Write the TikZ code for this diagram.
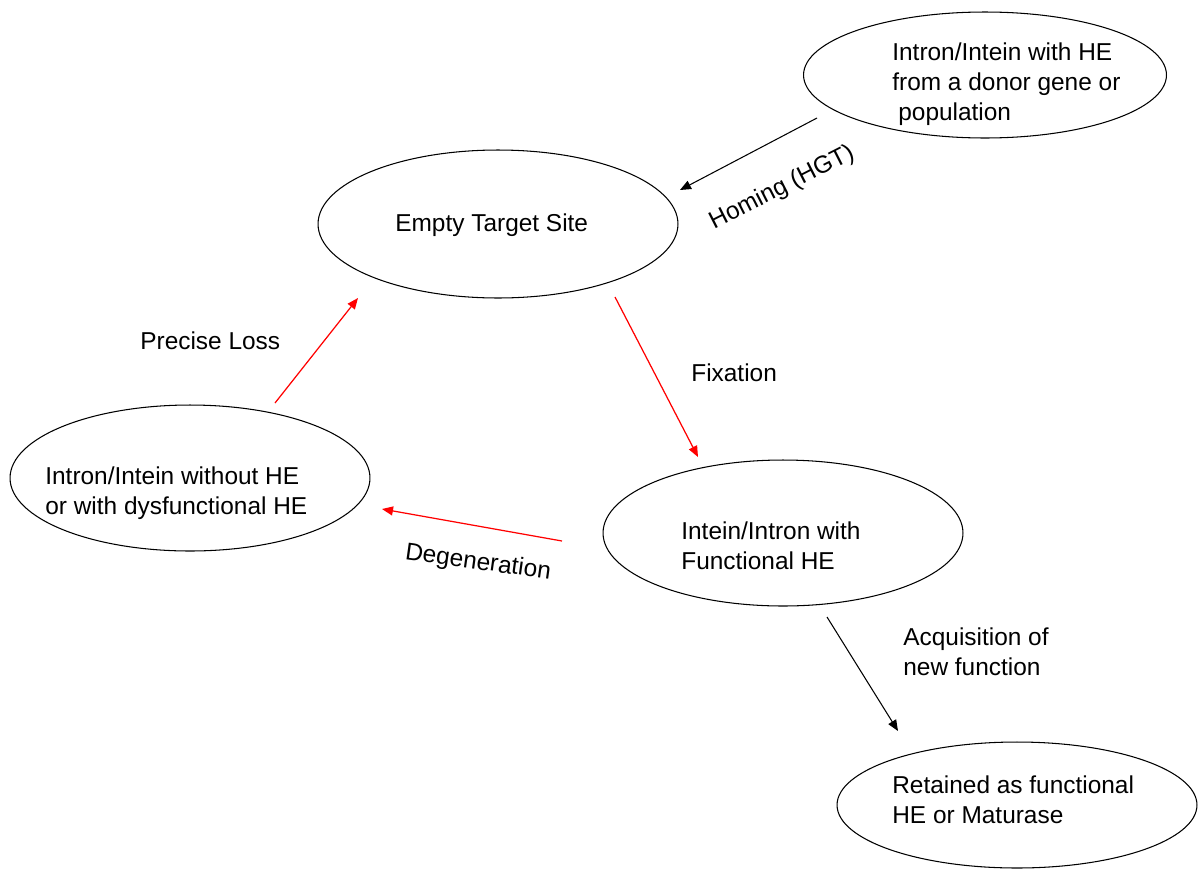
\documentclass[tikz,border=0pt]{standalone}
\usepackage{fontspec}
\setmainfont{Liberation Sans}
\usetikzlibrary{shapes.geometric,arrows.meta,positioning}

\begin{document}
\begin{tikzpicture}[x=0.02cm, y=-0.02cm,
        >={Triangle[length=0.22cm, width=0.18cm]},
        state/.style={draw, ellipse, line width=0.6pt, minimum width=7.2cm, inner sep=0pt},
        txt/.style={anchor=west, align=left, inner sep=0pt, font=\fontsize{13.9}{17.1}\selectfont},
        lbl/.style={inner sep=0pt, font=\fontsize{13.9}{17.1}\selectfont},
        flow/.style={->, line width=0.6pt},
        loss/.style={->, line width=0.7pt, red}]
        \useasboundingbox (0,0) rectangle (1199,869);

        % donor ellipse (top right)
        \node[state, minimum width=7.26cm, minimum height=2.52cm] (donor) at (985,75) {};
        \node[txt] (donortxt) at (892,84) {Intron/Intein with HE\\from a donor gene or\\\hspace*{0.12cm}population};

        % empty target site
        \node[state, minimum height=2.96cm] (target) at (498,224) {};
        \node[txt] (targettxt) at (395,225) {Empty Target Site};

        % intron/intein without HE (left)
        \node[state, minimum height=2.92cm] (degen) at (190,478) {};
        \node[txt] (degentxt) at (45,493) {Intron/Intein without HE\\or with dysfunctional HE};

        % intein/intron with functional HE
        \node[state, minimum height=2.92cm] (func) at (783,533) {};
        \node[txt] (functxt) at (681,546) {Intein/Intron with\\Functional HE};

        % retained (bottom right)
        \node[state, minimum height=2.52cm] (kept) at (1017,805) {};
        \node[txt] (kepttxt) at (892,800) {Retained as functional\\HE or Maturase};

        % arrow end points
        \coordinate (homS) at (817,118);
        \coordinate (homE) at (680,190);
        \coordinate (fixS) at (615,297);
        \coordinate (fixE) at (698,457);
        \coordinate (losS) at (275,403);
        \coordinate (losE) at (358,298);
        \coordinate (degS) at (562,541);
        \coordinate (degE) at (382,509);
        \coordinate (acqS) at (827,617);
        \coordinate (acqE) at (898,731);

        % Homing: donor -> target
        \draw[flow] (homS) -- (homE);
        \node[lbl, rotate=27] (homing) at (782,188) {Homing (HGT)};

        % Fixation: target -> functional
        \draw[loss] (fixS) -- (fixE);
        \node[txt] (fixation) at (691,373) {Fixation};

        % Precise loss: degenerate -> target
        \draw[loss] (losS) -- (losE);
        \node[txt] (precise) at (140,341) {Precise Loss};

        % Degeneration: functional -> degenerate
        \draw[loss] (degS) -- (degE);
        \node[lbl, rotate=-8] (degeneration) at (478,563) {Degeneration};

        % Acquisition: functional -> retained
        \draw[flow] (acqS) -- (acqE);
        \node[txt] (acquisition) at (903,652) {Acquisition of\\new function};
\end{tikzpicture}
\end{document}
